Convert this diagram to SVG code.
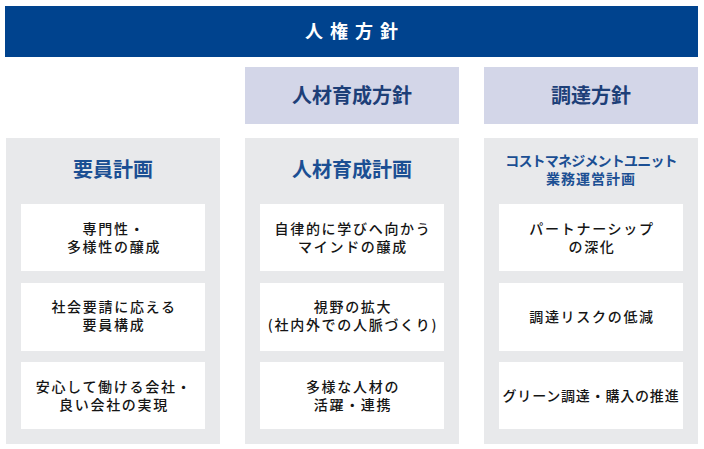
<svg xmlns="http://www.w3.org/2000/svg" width="704" height="449" viewBox="0 0 704 449">
<style>
.bar{fill:#00438E}
.pol{fill:#D3D6E8}
.pan{fill:#E8E9EB}
.box{fill:#FFFFFF}
text{font-family:"Noto Sans CJK JP","Noto Sans",sans-serif;text-anchor:middle}
.t0{font-size:18px;font-weight:700;fill:#FFFFFF;letter-spacing:7px}
.t1{font-size:20px;font-weight:700;fill:#1D3F78}
.t2{font-size:20px;font-weight:700;fill:#1B4F93}
.t3{font-size:14px;font-weight:700;fill:#1B4F93}
.it{font-size:14px;font-weight:500;fill:#151515;letter-spacing:1.7px}
</style>
<rect width="704" height="449" fill="#FFFFFF"/>
<g id="jinken">
<rect class="bar" x="5" y="6" width="693" height="51"/>
<text class="t0" x="355" y="38">人権方針</text>
</g>
<g id="jinzai-houshin">
<rect class="pol" x="245" y="67" width="214" height="57"/>
<text class="t1" x="352" y="103">人材育成方針</text>
</g>
<g id="chotatsu-houshin">
<rect class="pol" x="484" y="67" width="214" height="57"/>
<text class="t1" x="591" y="103">調達方針</text>
</g>
<g id="youin">
<rect class="pan" x="6" y="138" width="214" height="306"/>
<text class="t2" x="113" y="177">要員計画</text>
<rect class="box" x="21" y="204" width="184" height="67"/>
<text class="it" x="114" y="234">専門性・<tspan x="114" dy="18">多様性の醸成</tspan></text>
<rect class="box" x="21" y="283" width="184" height="68"/>
<text class="it" x="114" y="312">社会要請に応える<tspan x="114" dy="18">要員構成</tspan></text>
<rect class="box" x="21" y="362" width="184" height="67"/>
<text class="it" x="114" y="392">安心して働ける会社・<tspan x="114" dy="18">良い会社の実現</tspan></text>
</g>
<g id="jinzai-keikaku">
<rect class="pan" x="245" y="138" width="214" height="306"/>
<text class="t2" x="352" y="177">人材育成計画</text>
<rect class="box" x="260" y="204" width="184" height="67"/>
<text class="it" x="353" y="234">自律的に学びへ向かう<tspan x="353" dy="18">マインドの醸成</tspan></text>
<rect class="box" x="260" y="283" width="184" height="68"/>
<text class="it" x="353" y="312">視野の拡大<tspan x="353" dy="18">(社内外での人脈づくり)</tspan></text>
<rect class="box" x="260" y="362" width="184" height="67"/>
<text class="it" x="353" y="392">多様な人材の<tspan x="353" dy="18">活躍・連携</tspan></text>
</g>
<g id="cost">
<rect class="pan" x="484" y="138" width="214" height="306"/>
<text class="t3" x="591" y="166"><tspan style="letter-spacing:-0.8px">コストマネジメントユニット</tspan><tspan x="591" dy="18" style="letter-spacing:1px">業務運営計画</tspan></text>
<rect class="box" x="499" y="204" width="184" height="67"/>
<text class="it" x="592" y="234">パートナーシップ<tspan x="592" dy="18">の深化</tspan></text>
<rect class="box" x="499" y="283" width="184" height="68"/>
<text class="it" x="592" y="322">調達リスクの低減</text>
<rect class="box" x="499" y="362" width="184" height="67"/>
<text class="it" x="591" y="401" style="letter-spacing:0.8px">グリーン調達・購入の推進</text>
</g>
<g id="connectors"/>
</svg>
